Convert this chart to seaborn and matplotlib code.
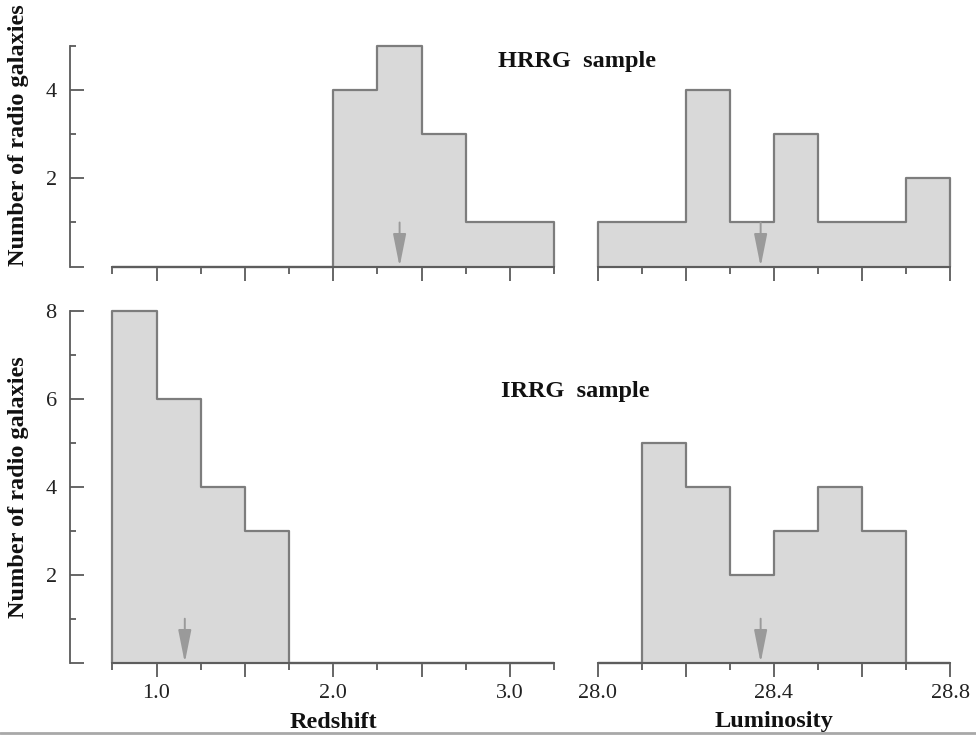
import numpy as np
import pandas as pd
import matplotlib
matplotlib.use("Agg")
import matplotlib.pyplot as plt
import seaborn as sns
from matplotlib.ticker import FixedLocator, FixedFormatter
from matplotlib.lines import Line2D

# ---------------- data ----------------
z_edges = [0.75, 1.0, 1.25, 1.5, 1.75, 2.0, 2.25, 2.5, 2.75, 3.0, 3.25]
lum_edges = [28.0, 28.1, 28.2, 28.3, 28.4, 28.5, 28.6, 28.7, 28.8]

hrrg_z_counts = [0, 0, 0, 0, 0, 4, 5, 3, 1, 1]
hrrg_lum_counts = [1, 1, 4, 1, 3, 1, 1, 2]
irrg_z_counts = [8, 6, 4, 3, 0, 0, 0, 0, 0, 0]
irrg_lum_counts = [0, 5, 4, 2, 3, 4, 3, 0]

hrrg_medians = [2.375, 28.37]   # arrows (redshift, luminosity)
irrg_medians = [1.16, 28.37]

sample_names = ["HRRG  sample", "IRRG  sample"]
y_label = "Number of radio galaxies"
x_labels = ["Redshift", "Luminosity"]

z_major = [1.0, 1.5, 2.0, 2.5, 3.0]
z_major_labels = ["1.0", "", "2.0", "", "3.0"]
z_minor = [0.75, 1.25, 1.75, 2.25, 2.75, 3.25]
lum_major = [28.0, 28.2, 28.4, 28.6, 28.8]
lum_major_labels = ["28.0", "", "28.4", "", "28.8"]
lum_minor = [28.1, 28.3, 28.5, 28.7]

top_yticks = [0, 2, 4]
top_yticklabels = ["", "2", "4"]
top_yminor = [1, 3, 5]
bot_yticks = [0, 2, 4, 6, 8]
bot_yticklabels = ["", "2", "4", "6", "8"]
bot_yminor = [1, 3, 5, 7]

# ---------------- style ----------------
sns.set_style("ticks")
plt.rcParams["font.family"] = ["Liberation Serif", "DejaVu Serif"]

FILL = "#d9d9d9"
EDGE = "#7d7d7d"
SPINE = "#5a5a5a"
ARROW = "#9a9a9a"

W, H = 976, 735
fig = plt.figure(figsize=(W / 100, H / 100), dpi=100)


def box(x0, x1, y_top, y_bot):
    return [x0 / W, 1 - y_bot / H, (x1 - x0) / W, (y_bot - y_top) / H]


ax_tl = fig.add_axes(box(112.3, 554.3, 45.7, 266.7))
ax_tr = fig.add_axes(box(597.7, 950.0, 45.7, 266.7))
ax_bl = fig.add_axes(box(112.3, 554.3, 310.7, 662.7))
ax_br = fig.add_axes(box(597.7, 950.0, 310.7, 662.7))


def centers(edges):
    e = np.asarray(edges)
    return (e[:-1] + e[1:]) / 2


def draw_hist(ax, edges, counts, median):
    sns.histplot(x=centers(edges), weights=counts, bins=edges, element="step",
                 fill=True, color=FILL, edgecolor=EDGE, linewidth=1.6,
                 alpha=1.0, ax=ax)
    for art in list(ax.collections) + list(ax.lines) + list(ax.patches):
        art.set_clip_on(False)
    ax.annotate("", xy=(median, 0), xytext=(median, 1),
                arrowprops=dict(arrowstyle="-|>,head_length=1.0,head_width=0.2",
                                color=ARROW, lw=1.4, mutation_scale=20,
                                shrinkA=0, shrinkB=0))


draw_hist(ax_tl, z_edges, hrrg_z_counts, hrrg_medians[0])
draw_hist(ax_tr, lum_edges, hrrg_lum_counts, hrrg_medians[1])
draw_hist(ax_bl, z_edges, irrg_z_counts, irrg_medians[0])
draw_hist(ax_br, lum_edges, irrg_lum_counts, irrg_medians[1])

for ax, ymax in [(ax_tl, 5), (ax_tr, 5), (ax_bl, 8), (ax_br, 8)]:
    ax.set_ylim(0, ymax)
    ax.set_facecolor("none")
    ax.spines["top"].set_visible(False)
    ax.spines["right"].set_visible(False)
    for s in ax.spines.values():
        s.set_color(SPINE)
        s.set_linewidth(1.3)
    ax.set_xlabel("")
    ax.set_ylabel("")

for ax in (ax_tl, ax_bl):
    ax.set_xlim(z_edges[0], z_edges[-1])
    ax.xaxis.set_major_locator(FixedLocator(z_major))
    ax.xaxis.set_major_formatter(FixedFormatter(z_major_labels))
    ax.xaxis.set_minor_locator(FixedLocator(z_minor))
for ax in (ax_tr, ax_br):
    ax.set_xlim(lum_edges[0], lum_edges[-1])
    ax.xaxis.set_major_locator(FixedLocator(lum_major))
    ax.xaxis.set_major_formatter(FixedFormatter(lum_major_labels))
    ax.xaxis.set_minor_locator(FixedLocator(lum_minor))
    ax.spines["left"].set_visible(False)
    ax.tick_params(axis="y", which="both", left=False, labelleft=False)

for ax in (ax_tl, ax_tr, ax_bl, ax_br):
    ax.tick_params(axis="x", which="major", direction="out", length=10,
                   width=1.3, color=SPINE, pad=5, labelsize=16,
                   labelcolor="#222222")
    ax.tick_params(axis="x", which="minor", direction="out", length=5,
                   width=1.3, color=SPINE)
for ax in (ax_tl, ax_tr):
    ax.tick_params(axis="x", which="both", labelbottom=False)

ax_tl.yaxis.set_major_locator(FixedLocator(top_yticks))
ax_tl.yaxis.set_major_formatter(FixedFormatter(top_yticklabels))
ax_tl.yaxis.set_minor_locator(FixedLocator(top_yminor))
ax_bl.yaxis.set_major_locator(FixedLocator(bot_yticks))
ax_bl.yaxis.set_major_formatter(FixedFormatter(bot_yticklabels))
ax_bl.yaxis.set_minor_locator(FixedLocator(bot_yminor))
for ax in (ax_tl, ax_bl):
    ax.spines["left"].set_position(("outward", 30.5))
    ax.tick_params(axis="y", which="major", direction="in", length=10,
                   width=1.3, color=SPINE, pad=9.5, labelsize=16,
                   labelcolor="#222222")
    ax.tick_params(axis="y", which="minor", direction="in", length=4,
                   width=1.3, color=SPINE)
    ax.set_ylabel(y_label, fontsize=17.5, fontweight="bold", color="#111111")
    ax.yaxis.label.set_va("center")
    ax.yaxis.label.set_ha("center")

ax_tl.yaxis.set_label_coords((18 - 112.3) / 442, (266.7 - 135) / 221)
ax_bl.yaxis.set_label_coords((18 - 112.3) / 442, (662.7 - 487.5) / 352)

ax_bl.set_xlabel(x_labels[0], fontsize=17.5, fontweight="bold", color="#111111")
ax_br.set_xlabel(x_labels[1], fontsize=17.5, fontweight="bold", color="#111111")
for ax in (ax_bl, ax_br):
    ax.xaxis.label.set_va("center")
    ax.xaxis.set_label_coords(0.5, (662.7 - 722) / 352)

fig.text(498 / W, 1 - 62 / H, sample_names[0], fontsize=17.5, fontweight="bold",
         ha="left", va="center", color="#111111")
fig.text(501 / W, 1 - 392 / H, sample_names[1], fontsize=17.5, fontweight="bold",
         ha="left", va="center", color="#111111")

fig.add_artist(Line2D([0, 1], [1 - 733 / H, 1 - 733 / H], color="#a8a8a8",
                      lw=2, transform=fig.transFigure))

fig.savefig("out.png", dpi=100)
